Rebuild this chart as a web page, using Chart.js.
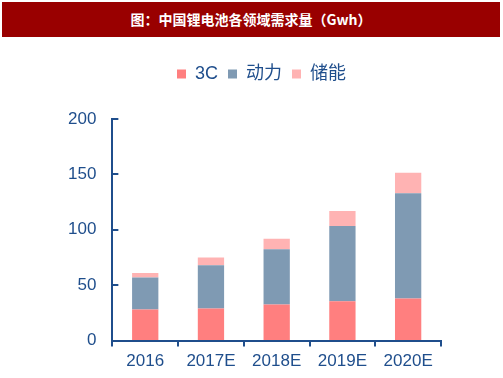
<!DOCTYPE html>
<html lang="zh">
<head>
    <meta charset="UTF-8">
    <title>中国锂电池各领域需求量</title>
    <script src="https://cdn.jsdelivr.net/npm/chart.js"></script>
    <style>
        body { margin: 0; background: #fff; }
        #wrap { position: relative; width: 503px; height: 378px; }
        #title {
            position: absolute; left: 2px; top: 2px; width: 498px; height: 35px;
            background: #990000; color: #fff; text-align: center;
            font: bold 14px "Noto Sans CJK SC", sans-serif; line-height: 35px;
        }
        canvas { position: absolute; left: 0; top: 0; }
    </style>
</head>
<body>
<div id="wrap">
    <canvas id="demandChart" width="503" height="378"></canvas>
    <div id="title">图：中国锂电池各领域需求量（Gwh）</div>
</div>

<script>
    // data (Gwh)
    var years = ['2016', '2017E', '2018E', '2019E', '2020E'];
    var consumer3C = [28, 29, 32.5, 35.5, 38];
    var power = [29, 39, 50, 68, 95];
    var storage = [4, 7, 9.5, 13.5, 18.5];
    var yTicks = [0, 50, 100, 150, 200];

    var axisColor = '#1F4E8C';

    // y ticks in the picture point into the plot, so draw them by hand
    var innerTicks = {
        id: 'innerTicks',
        afterDraw: function (chart) {
            var y = chart.scales.y;
            var ctx = chart.ctx;
            ctx.save();
            ctx.strokeStyle = axisColor;
            ctx.lineWidth = 2;
            yTicks.forEach(function (v) {
                var py = Math.round(y.getPixelForValue(v));
                ctx.beginPath();
                ctx.moveTo(chart.chartArea.left, py);
                ctx.lineTo(chart.chartArea.left + 6, py);
                ctx.stroke();
            });
            ctx.restore();
        }
    };

    // push the plot down below the legend and nudge legend to the right
    var legendSpace = {
        id: 'legendSpace',
        beforeInit: function (chart) {
            var fit = chart.legend.fit;
            chart.legend.fit = function () {
                fit.call(this);
                this.height += 26;
            };
        },
        afterLayout: function (chart) {
            chart.legend.left += 15;
            chart.legend.right += 15;
        }
    };

    var ctx = document.getElementById('demandChart').getContext('2d');
    new Chart(ctx, {
        type: 'bar',
        data: {
            labels: years,
            datasets: [
                { label: '3C', data: consumer3C, backgroundColor: '#FF7F7F' },
                { label: '动力', data: power, backgroundColor: '#7F9AB3' },
                { label: '储能', data: storage, backgroundColor: '#FFB3B3' }
            ]
        },
        options: {
            responsive: false,
            animation: false,
            layout: { padding: { left: 52, right: 62, top: 55, bottom: 1 } },
            datasets: { bar: { categoryPercentage: 1, barPercentage: 0.4 } },
            plugins: {
                tooltip: { enabled: false },
                legend: {
                    position: 'top',
                    labels: {
                        boxWidth: 9, boxHeight: 9, padding: 10,
                        color: axisColor,
                        font: { family: '"Liberation Sans", "Noto Sans CJK SC", sans-serif', size: 18 }
                    }
                }
            },
            scales: {
                x: {
                    stacked: true,
                    border: { color: axisColor, width: 2 },
                    grid: { drawOnChartArea: false, drawTicks: true, tickLength: 6, color: axisColor, lineWidth: 2 },
                    ticks: { color: axisColor, padding: 5, font: { family: '"Liberation Sans", sans-serif', size: 17 } }
                },
                y: {
                    stacked: true,
                    min: 0, max: 200,
                    border: { color: axisColor, width: 2 },
                    grid: { drawOnChartArea: false, drawTicks: false },
                    ticks: { stepSize: 50, color: axisColor, padding: 16, font: { family: '"Liberation Sans", sans-serif', size: 17 } }
                }
            }
        },
        plugins: [innerTicks, legendSpace]
    });
</script>
</body>
</html>
